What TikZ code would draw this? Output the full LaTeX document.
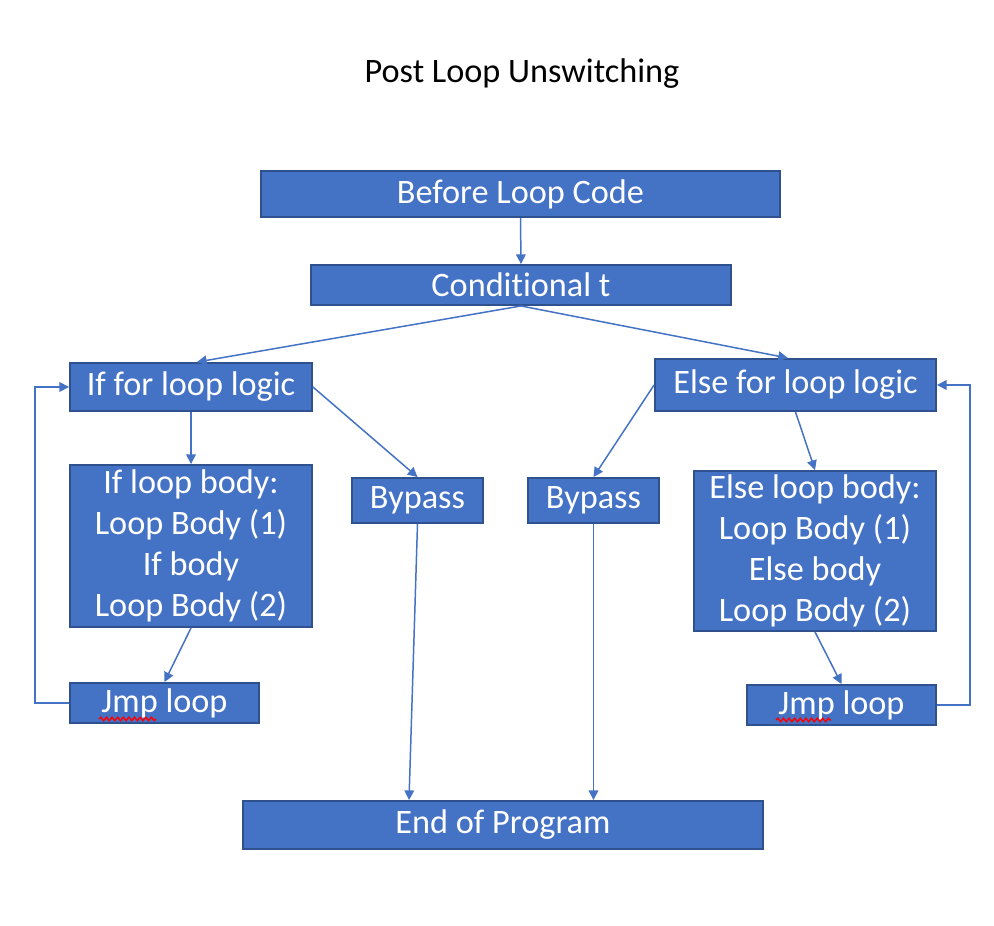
\documentclass[tikz,border=0pt]{standalone}
\usepackage{fontspec}
\setmainfont{Carlito}[Ligatures=NoCommon]
\usetikzlibrary{positioning, calc, arrows.meta, decorations.pathmorphing}

\definecolor{boxblue}{HTML}{4472C4}
\definecolor{boxline}{HTML}{2F528F}
\definecolor{flowline}{HTML}{4472C4}

\tikzset{
    blockbox/.style={draw=boxline, fill=boxblue, text=white, line width=1.1pt,
        inner sep=0pt, align=center, font=\fontsize{19.5}{23.3}\selectfont},
    flow/.style={draw=flowline, line width=0.85pt, -{Triangle[length=5.5pt,width=5.5pt]}},
    squiggle/.style={draw=red, line width=0.8pt, decorate,
        decoration={snake, amplitude=1pt, segment length=3.2pt}}
}

\begin{document}
\begin{tikzpicture}[x=0.02cm, y=-0.02cm]
    \useasboundingbox (0,0) rectangle (994,926);

    % Title
    \node[font=\fontsize{19.5}{23.3}\selectfont] (title) at (522,74) {Post Loop Unswitching};

    % Top of the program
    \node[blockbox, minimum width=10.38cm, minimum height=0.92cm] (before) at (520.5,194) {Before Loop Code};
    \node[blockbox, minimum width=8.40cm, minimum height=0.80cm] (cond) at (521,285) {Conditional t};

    % If branch
    \node[blockbox, minimum width=4.84cm, minimum height=0.96cm] (iflogic) at (191,387) {If for loop logic};
    \node[blockbox, minimum width=4.84cm, minimum height=3.24cm] (ifbody) at (191,546)
        {If loop body:\\Loop Body (1)\\If body\\Loop Body (2)};
    \node[blockbox, minimum width=3.78cm, minimum height=0.80cm] (jmpif) at (164.5,703) {Jmp loop};
    \node[blockbox, minimum width=2.62cm, minimum height=0.90cm] (bypassif) at (417.5,500.5) {Bypass};

    % Else branch
    \node[blockbox, minimum width=5.62cm, minimum height=1.04cm] (elselogic) at (795.5,385) {Else for loop logic};
    \node[blockbox, minimum width=4.84cm, minimum height=3.20cm] (elsebody) at (815,551)
        {Else loop body:\\Loop Body (1)\\Else body\\Loop Body (2)};
    \node[blockbox, minimum width=3.78cm, minimum height=0.80cm] (jmpelse) at (841.5,705) {Jmp loop};
    \node[blockbox, minimum width=2.62cm, minimum height=0.90cm] (bypasselse) at (593.5,500.5) {Bypass};

    % End
    \node[blockbox, minimum width=10.40cm, minimum height=0.96cm] (endprog) at (503,825) {End of Program};

    % Spell check marks under Jmp
    \draw[squiggle] ([shift={(30,-5)}]jmpif.south west) -- ++(57,0);
    \draw[squiggle] ([shift={(30,-6)}]jmpelse.south west) -- ++(55,0);

    % Connectors
    \draw[flow] (before.south) -- (cond.north);
    \draw[flow] (cond.south) -- ([xshift=3.4pt]iflogic.north);
    \draw[flow] (cond.south) -- ([xshift=-4.3pt]elselogic.north);
    \draw[flow] (iflogic.south) -- (ifbody.north);
    \draw[flow] (iflogic.east) -- (bypassif.north);
    \draw[flow] (elselogic.west) -- (bypasselse.north);
    \draw[flow] (elselogic.south) -- (elsebody.north);
    \draw[flow] (ifbody.south) -- (jmpif.north);
    \draw[flow] (elsebody.south) -- (jmpelse.north);

    % Loop back edges
    \draw[flow] (jmpif.west) -- ++(-34,0) |- (iflogic.west);
    \draw[flow] (jmpelse.east) -- ++(33,0) |- (elselogic.east);

    % Bypass to the end
    \draw[flow] (bypassif.south) -- ([xshift=-53.5pt]endprog.north);
    \draw[flow] (bypasselse.south) -- (bypasselse.south |- endprog.north);
\end{tikzpicture}
\end{document}
